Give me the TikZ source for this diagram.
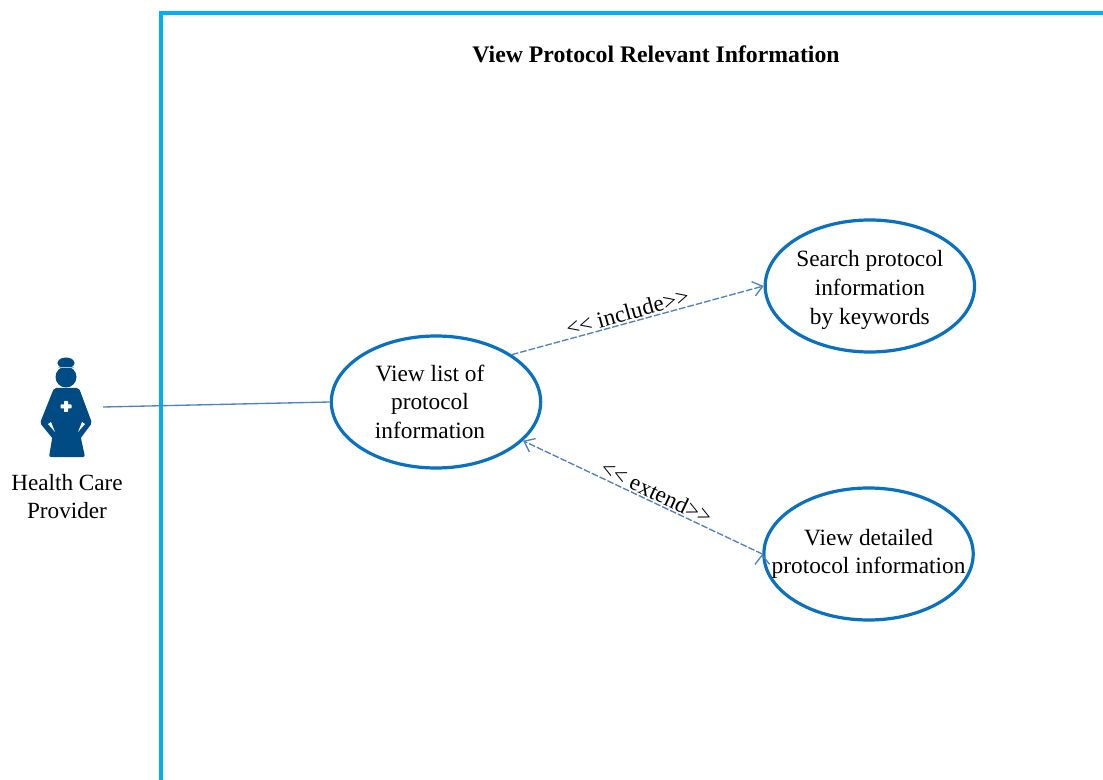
\documentclass[tikz,border=0pt]{standalone}
\usepackage{fontspec}
\setmainfont{Liberation Serif}
\usepackage{tikz}
\usetikzlibrary{arrows.meta,positioning,shapes.geometric}
\definecolor{framecyan}{HTML}{00B0F0}
\definecolor{ovalblue}{HTML}{0A70C0}
\definecolor{linkblue}{HTML}{4F81BD}
\definecolor{nurseblue}{HTML}{004B83}

\tikzset{
	usecase/.style={draw=ovalblue, line width=2.4pt, ellipse, minimum width=157pt, minimum height=99pt, inner sep=-22pt, align=center, font=\fontsize{17.5}{21.5}\selectfont},
	dep/.style={draw=linkblue, line width=1pt, dash pattern=on 5pt off 1.5pt, -{Straight Barb[length=7pt,width=11pt]}},
	deplabel/.style={font=\fontsize{17.4}{19}\selectfont, sloped, above, inner sep=1.2pt}
}

\begin{document}
\begin{tikzpicture}[x=0.75pt, y=-0.75pt, node distance=2cm, auto]
	\useasboundingbox (0,0) rectangle (1103,780);

	% system frame
	\draw[framecyan, line width=2.6pt] (161,780) -- (161,13) -- (1103,13);
	\node[draw=none, font=\fontsize{17.8}{20}\bfseries] (title) at (656,54) {View Protocol Relevant Information};

	% actor
	\fill[nurseblue] (66,363) ellipse (8.5 and 5.5);
	\fill[nurseblue] (66,377) circle (10.5);
	\draw[nurseblue!35, line width=0.6pt] (58,367) -- (74,367);
	\fill[nurseblue, rounded corners=1.5pt]
		(54,388) -- (79,388) -- (92,423) -- (80,439) -- (80.5,436) -- (85,457) -- (49,457)
		-- (52.5,436) -- (53,439) -- (40,423) -- cycle;
	\fill[white] (48,424) -- (51,422) -- (55,432) -- cycle (85,424) -- (82,422) -- (78,432) -- cycle;
	\fill[white, rounded corners=0.5pt] (64,401) rectangle (68,412) (60.5,404.5) rectangle (71.5,408.5);
	\coordinate (hand) at (103,407);
	\node[draw=none, align=center, font=\fontsize{17.4}{21}\selectfont] (actor) at (67,497) {Health Care\\Provider};

	% use cases
	\node[usecase] (view) at (436,402) {\begin{tabular}{@{}c@{\hspace{9pt}}}\rule{0pt}{18pt}View list of\\protocol\\information\end{tabular}};
	\node[usecase, right=166pt of view, yshift=87pt] (search) {\begin{tabular}{@{}c@{}}\rule{0pt}{20.5pt}Search protocol\\information\\by keywords\end{tabular}};
	\node[usecase, right=165pt of view, yshift=-114pt] (detail) {View detailed\\protocol information};

	\draw[linkblue, line width=1pt] (hand) -- (view.west);
	\path[dep]
		(view.32) edge node[deplabel, pos=0.47] {<{}< include>{}>} (search.west)
		(detail.west) edge node[deplabel, pos=0.46] {<{}< extend>{}>} (view.-24)
	;
\end{tikzpicture}
\end{document}
